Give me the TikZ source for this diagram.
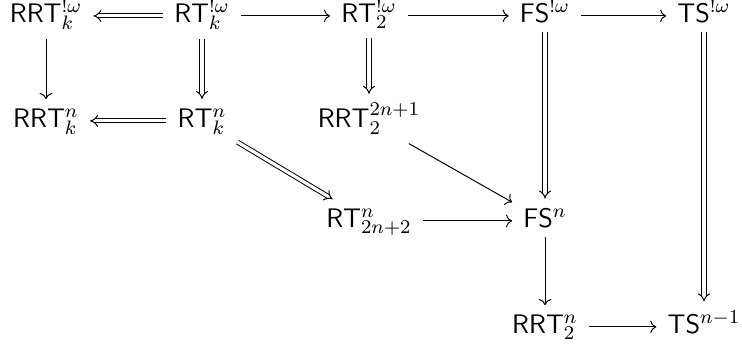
\documentclass[tikz,border=0pt]{standalone}
\usetikzlibrary{cd,arrows.meta}
\begin{document}
\begin{tikzpicture}[x=0.41pt,y=-0.41pt,
  cell/.style={shape=asymmetrical rectangle, inner xsep=4.4pt, inner ysep=3.6pt, anchor=base, font=\fontsize{11}{13}\sffamily\selectfont},
  sar/.style={-{Computer Modern Rightarrow}, line width=0.4pt},
  dar/.style={-{Implies}, double, double distance=1.3pt, line width=0.4pt}]
\useasboundingbox (0,0) rectangle (742,348);
% row 1
\node[cell] (A) at (46,22) {RRT$^{!\omega}_k$};
\node[cell] (B) at (202,22) {RT$^{!\omega}_k$};
\node[cell] (C) at (369,22) {RT$^{!\omega}_2$};
\node[cell] (D) at (545,22) {FS$^{!\omega}$};
\node[cell] (E) at (704,22) {TS$^{!\omega}$};
% row 2
\node[cell] (F) at (46,127) {RRT$^{n}_k$};
\node[cell] (G) at (202,127) {RT$^{n}_k$};
\node[cell] (H) at (369,127) {RRT$^{2n+1}_2$};
% row 3
\node[cell] (I) at (369,227) {RT$^{n}_{2n+2}$};
\node[cell] (J) at (545,227) {FS$^{n}$};
% row 4
\node[cell] (K) at (545,333) {RRT$^{n}_2$};
\node[cell] (L) at (704,333) {TS$^{n-1}$};
% arrows
\draw[dar] (B) -- (A);
\draw[sar] (B) -- (C);
\draw[sar] (C) -- (D);
\draw[sar] (D) -- (E);
\draw[sar] (A) -- (F);
\draw[dar] (B) -- (G);
\draw[dar] (C) -- (H);
\draw[dar] (D) -- (J);
\draw[dar] (E) -- (L);
\draw[dar] (G) -- (F);
\draw[dar] (G) -- (I);
\draw[sar] (H) -- (J);
\draw[sar] (I) -- (J);
\draw[sar] (J) -- (K);
\draw[sar] (K) -- (L);
\end{tikzpicture}
\end{document}
